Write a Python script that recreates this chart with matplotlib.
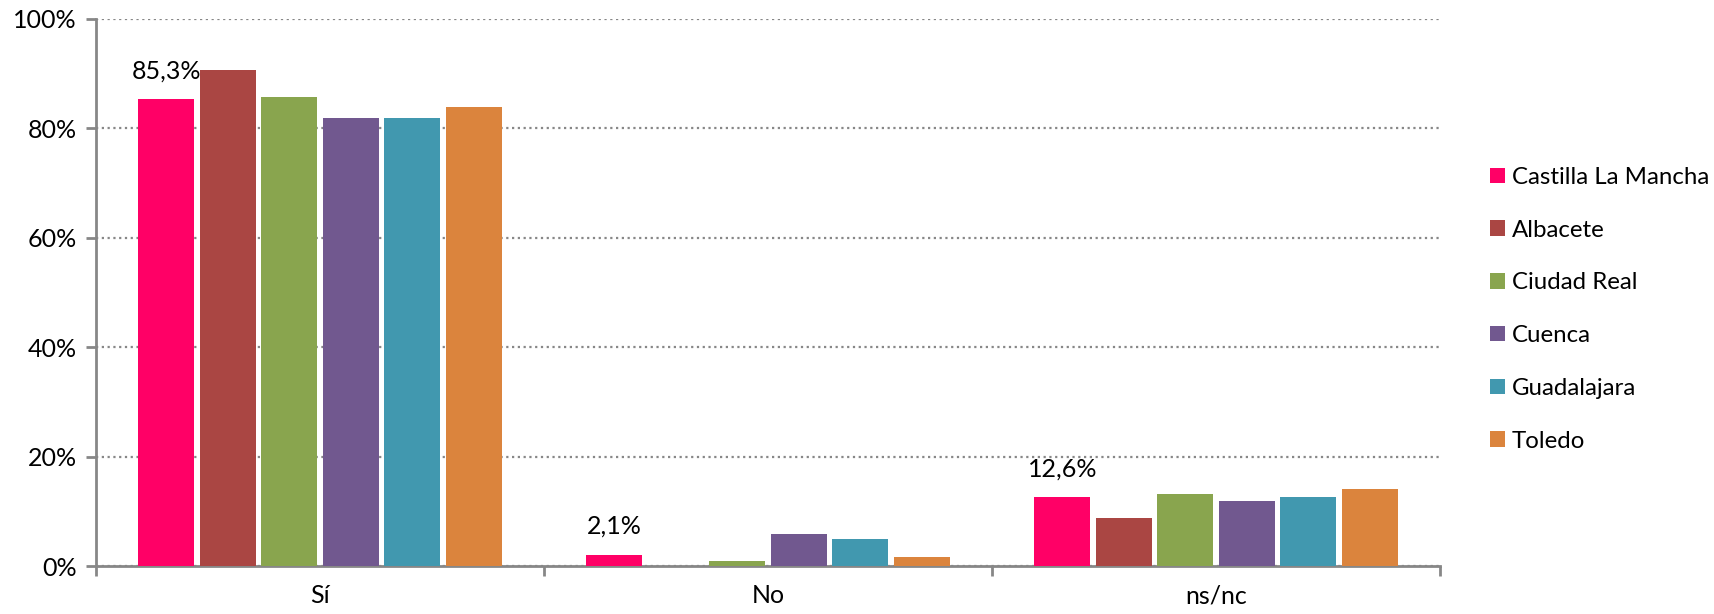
import matplotlib.pyplot as plt
import numpy as np

categories = ['Sí', 'No', 'ns/nc']
series = ['Castilla La Mancha', 'Albacete', 'Ciudad Real', 'Cuenca', 'Guadalajara', 'Toledo']
values = [
    [85.3, 2.1, 12.6],   # Castilla La Mancha
    [90.6, 0.0, 8.8],    # Albacete
    [85.8, 1.0, 13.2],   # Ciudad Real
    [81.9, 5.9, 11.8],   # Cuenca
    [81.9, 5.0, 12.7],   # Guadalajara
    [83.9, 1.6, 14.1],   # Toledo
]
label_texts = ['85,3%', '2,1%', '12,6%']
colors = ['#FF0066', '#AA4643', '#89A54E', '#71588F', '#4198AF', '#DB843D']

plt.rcParams['font.family'] = ['Lato', 'DejaVu Sans']
axis_grey = '#878787'
fs = 18

fig = plt.figure(figsize=(17.14, 6.14), dpi=100)
ax = fig.add_axes([96 / 1714, 1 - 566 / 614, 1344 / 1714, 547 / 614])

index = np.arange(len(categories))
step = 0.1373
bar_width = 0.125
for i, (name, vals) in enumerate(zip(series, values)):
    offset = (i - (len(series) - 1) / 2) * step
    bars = ax.bar(index + offset, vals, bar_width, color=colors[i], label=name, zorder=3)
    if i == 0:
        for b, txt in zip(bars, label_texts):
            ax.annotate(txt, (b.get_x() + b.get_width() / 2, b.get_height()),
                        xytext=(0, 12), textcoords='offset points',
                        ha='center', va='bottom', fontsize=fs)

ax.set_xlim(-0.5, 2.5)
ax.set_ylim(0, 100)
ax.set_yticks(np.arange(0, 101, 20))
ax.set_yticklabels([f'{v}%' for v in range(0, 101, 20)], fontsize=fs)
ax.yaxis.grid(True, linestyle=(0, (1, 1.6)), color=axis_grey, linewidth=1.6, zorder=0)

# category labels centred, tick marks on the boundaries
ax.set_xticks(index)
ax.set_xticklabels(categories, fontsize=fs)
ax.tick_params(axis='x', length=0, pad=13)
ax.set_xticks([-0.5, 0.5, 1.5, 2.5], minor=True)
ax.tick_params(axis='x', which='minor', length=7, width=2, color=axis_grey)
ax.tick_params(axis='y', length=7, width=2, color=axis_grey, pad=7)

for side in ['top', 'right']:
    ax.spines[side].set_visible(False)
for side in ['left', 'bottom']:
    ax.spines[side].set_color(axis_grey)
    ax.spines[side].set_linewidth(2)

ax.legend(loc='upper left', bbox_to_anchor=(1490 / 1714, 1 - 167 / 614), bbox_transform=fig.transFigure,
          frameon=False, fontsize=17.3, handlelength=0.62, handleheight=0.62, handletextpad=0.28,
          labelspacing=1.32, borderaxespad=0, borderpad=0)

fig.savefig('out.png', dpi=100)
